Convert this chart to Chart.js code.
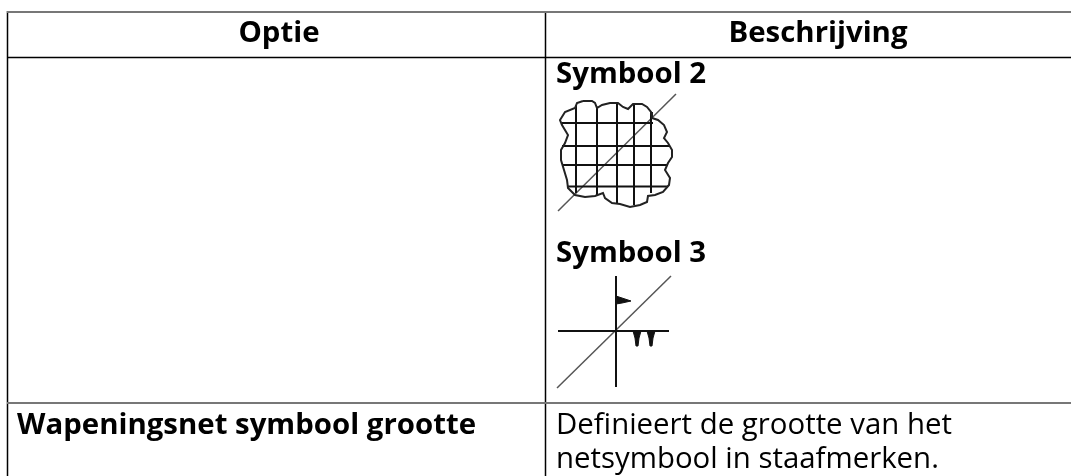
<!DOCTYPE html>
<html>
<head>
<meta charset="utf-8">
<title>Wapeningsnet symbool</title>
<style>
  html, body { margin: 0; padding: 0; background: #fff; }
  #wrap { width: 1071px; height: 476px; }
</style>
<script src="https://cdn.jsdelivr.net/npm/chart.js@4"></script>
</head>
<body>
<div id="wrap"><canvas id="chart" width="1071" height="476"></canvas></div>
<script>
// all points are picture units
const tableTop = [[7, 12], [1071, 12]];
const headerRule = [[7, 57.5], [1071, 57.5]];
const rowRule = [[7, 403], [1071, 403]];
const tableLeft = [[7.5, 11], [7.5, 476]];
const tableMiddle = [[545.5, 11], [545.5, 476]];

const cloudOutline = [[583, 101], [592, 101], [595, 103], [597, 108], [602, 105], [610, 103], [618, 103], [623, 107],
  [628, 109], [633, 104], [642, 104], [647, 107], [651, 112], [652, 118], [658, 120], [664, 125], [667, 132], [664, 138],
  [668, 143], [672, 150], [672, 157], [668, 163], [665, 170], [670, 178], [669, 185], [663, 192], [655, 195], [648, 196],
  [647, 202], [640, 205], [630, 207], [620, 204], [612, 203], [605, 198], [603, 193], [595, 196], [585, 197], [575, 195],
  [568, 188], [567, 180], [564, 170], [561, 160], [561, 150], [565, 143], [568, 135], [562, 125], [560, 120], [565, 112],
  [575, 108], [577, 103], [583, 101]];
const gridVerticals = [
  [[576, 105], [576, 193]],
  [[597, 107], [597, 195]],
  [[617, 103], [617, 203]],
  [[634, 104], [634, 205]],
  [[651, 112], [651, 193]],
];
const gridHorizontals = [
  [[562, 123], [653, 123]],
  [[562, 146], [670, 146]],
  [[562, 165], [668, 165]],
  [[568, 186.5], [668, 186.5]],
];
const cloudDiagonal = [[558, 211], [676, 94]];

const crossVertical = [[616, 276], [616, 387]];
const crossHorizontal = [[558, 331], [669, 331]];
const crossDiagonal = [[557, 388], [671, 276]];
const crossFlag = [[616, 296], [622, 298], [631, 301], [622, 303], [616, 304], [616, 296]];
const crossBarbs = [
  [[633, 331], [641, 331], [639, 338], [638, 346], [636, 346], [635, 338], [633, 331]],
  [[647, 331], [655, 331], [653, 338], [652, 346], [650, 346], [649, 338], [647, 331]],
];

const labelTexts = ['Optie', 'Beschrijving', 'Symbool 2', 'Symbool 3', 'Wapeningsnet symbool grootte',
  'Definieert de grootte van het', 'netsymbool in staafmerken.'];
const labelX = [279, 818, 556, 556, 17, 556, 556];
const labelY = [42, 42, 82.5, 262, 434, 434, 468];
const labelBold = [true, true, true, true, true, false, false];
const labelCentered = [true, true, false, false, false, false, false];

function line(points, width, color, fill) {
  return {
    data: points.map(p => ({ x: p[0], y: p[1] })),
    showLine: true,
    pointRadius: 0,
    borderWidth: width,
    borderColor: color,
    backgroundColor: color,
    fill: fill ? 'shape' : false,
    tension: 0,
  };
}

const textPlugin = {
  id: 'cellText',
  afterDraw(chart) {
    const { ctx, scales } = chart;
    ctx.save();
    ctx.fillStyle = '#000';
    ctx.textBaseline = 'alphabetic';
    labelTexts.forEach((text, i) => {
      ctx.font = (labelBold[i] ? 'bold ' : '') + '29.4px "Open Sans"';
      ctx.textAlign = labelCentered[i] ? 'center' : 'left';
      ctx.fillText(text, scales.x.getPixelForValue(labelX[i]), scales.y.getPixelForValue(labelY[i]));
    });
    ctx.restore();
  },
};

new Chart(document.getElementById('chart'), {
  type: 'scatter',
  data: {
    datasets: [
      line(tableTop, 2, '#777'),
      line(headerRule, 1.5, '#000'),
      line(rowRule, 2, '#777'),
      line(tableLeft, 1.5, '#000'),
      line(tableMiddle, 1.5, '#000'),
      line(cloudOutline, 2, '#222'),
      ...gridVerticals.map(g => line(g, 2, '#111')),
      ...gridHorizontals.map(g => line(g, 2, '#111')),
      line(cloudDiagonal, 1.5, '#555'),
      line(crossVertical, 2, '#111'),
      line(crossHorizontal, 2, '#111'),
      line(crossDiagonal, 1.5, '#555'),
      line(crossFlag, 1, '#111', true),
      ...crossBarbs.map(b => line(b, 1, '#111', true)),
    ],
  },
  options: {
    responsive: false,
    animation: false,
    layout: { padding: 0 },
    plugins: { legend: { display: false }, tooltip: { enabled: false }, title: { display: false } },
    scales: {
      x: { type: 'linear', min: 0, max: 1071, display: false },
      y: { type: 'linear', min: 0, max: 476, reverse: true, display: false },
    },
  },
  plugins: [textPlugin],
});
</script>
</body>
</html>
